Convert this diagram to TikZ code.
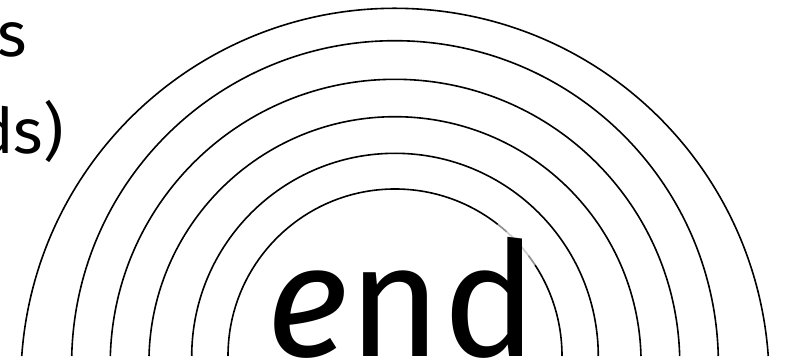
\documentclass[tikz,border=0pt]{standalone}
\usepackage{fontspec}
\setmainfont{Fira Sans}
\usetikzlibrary{calc}
\tikzset{
  arcline/.style={draw=black, line width=1.6pt},
  fadeline/.style={draw=white, line width=2.6pt, draw opacity=0.55},
  sidetext/.style={font=\fontsize{63}{63}\selectfont, inner sep=0pt, anchor=base east},
  bigtext/.style={font=\fontsize{159}{159}\selectfont, inner sep=0pt, anchor=base}
}
\begin{document}
\begin{tikzpicture}[x=1pt,y=1pt]
\useasboundingbox (0,0) rectangle (785,363);
\clip (0,0) rectangle (785,363);
\fill[white] (0,0) rectangle (785,363);
% concentric arcs: depth of centre below arc ends / radius
\foreach \d/\r in {26.5/374.2, 8.1/323.4, 8.1/284.8, 6.8/246.1, 0.6/203.3, 0/167}{
  \pgfmathsetmacro\ang{asin(\d/\r)}
  \coordinate (c) at (395,7-\d);
  \draw[arcline] ($(c)+(180-\ang:\r)$) arc[start angle=180-\ang, end angle=\ang, radius=\r pt];
}
% faded part of the innermost arc near the d
\coordinate (ci) at (395,7);
\draw[fadeline] ($(ci)+(52:167)$) arc[start angle=52, end angle=33, radius=167pt];
\draw[fadeline] ($(ci)+(48:167)$) arc[start angle=48, end angle=37, radius=167pt];
% texts
\node[sidetext] (t1) at (27,306) {s};
\node[sidetext] (t2) at (64,209) {ds)};
\node[bigtext] (t3) at (402,6) {\textit{e}nd};
\end{tikzpicture}
\end{document}
